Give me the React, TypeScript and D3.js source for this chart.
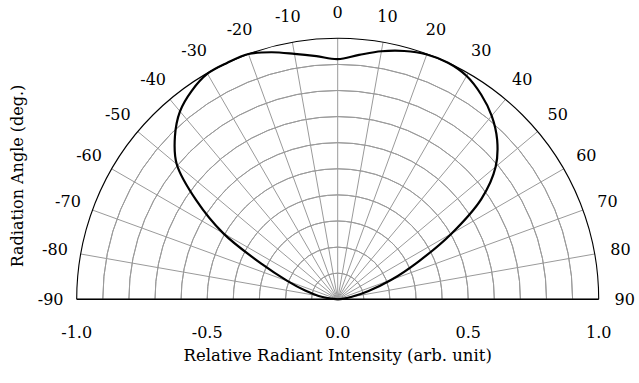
import React from "react";
import * as d3 from "d3";

const angles = [-90, -85, -80, -75, -70, -65, -60, -55, -50, -45, -40, -35, -30, -25, -20, -15, -10, -5, 0, 5, 10, 15, 20, 25, 30, 35, 40, 45, 50, 55, 60, 65, 70, 75, 80, 85, 90];
const intensity = [0, 0.027, 0.074, 0.129, 0.204, 0.323, 0.507, 0.662, 0.805, 0.882, 0.94, 0.975, 0.998, 1.0, 1.0, 0.98, 0.955, 0.935, 0.92, 0.94, 0.965, 0.985, 0.998, 1.0, 0.988, 0.958, 0.918, 0.864, 0.79, 0.673, 0.503, 0.34, 0.219, 0.12, 0.055, 0.018, 0];

const angleTicks = [-90, -80, -70, -60, -50, -40, -30, -20, -10, 0, 10, 20, 30, 40, 50, 60, 70, 80, 90];
const radialTicks = [0.1, 0.2, 0.3, 0.4, 0.5, 0.6, 0.7, 0.8, 0.9];
const xTicks = [-1.0, -0.5, 0.0, 0.5, 1.0];
const xTitle = "Relative Radiant Intensity (arb. unit)";
const yTitle = "Radiation Angle (deg.)";

const W = 639;
const H = 383;
const cx = 337.7;
const cy = 299.3;
const R = 261;
const FONT = "'DejaVu Serif', serif";
const FS = 16;

export default function App() {
  const x = d3.scaleLinear().domain([-1, 1]).range([cx - R, cx + R]);
  const r = d3.scaleLinear().domain([0, 1]).range([0, R]);
  const toRad = (deg: number) => (deg * Math.PI) / 180;

  const data = angles.map((a, i) => ({ a, v: intensity[i] }));
  const line = d3
    .lineRadial<{ a: number; v: number }>()
    .angle((d) => toRad(d.a))
    .radius((d) => r(d.v))
    .curve(d3.curveCatmullRom.alpha(0.5));

  const arc = (rad: number) =>
    d3.arc()({
      innerRadius: rad,
      outerRadius: rad,
      startAngle: -Math.PI / 2,
      endAngle: Math.PI / 2,
    }) as string;

  const labelR = R * 1.1;

  return (
    <svg
      width={W}
      height={H}
      style={{ position: "absolute", left: 0, top: 0, background: "#fff" }}
    >
      <g transform={`translate(${cx},${cy})`}>
        {radialTicks.map((t) => (
          <path key={t} d={arc(r(t))} fill="none" stroke="#9a9a9a" strokeWidth={1} />
        ))}
        {angleTicks.map((a) => (
          <line
            key={a}
            x1={0}
            y1={0}
            x2={r(1) * Math.sin(toRad(a))}
            y2={-r(1) * Math.cos(toRad(a))}
            stroke="#9a9a9a"
            strokeWidth={1}
          />
        ))}
        <path d={arc(r(1))} fill="none" stroke="#000" strokeWidth={1.1} />
        <path d={line(data) as string} fill="none" stroke="#000" strokeWidth={2.2} />
        {angleTicks.map((a) => (
          <text
            key={"l" + a}
            x={labelR * Math.sin(toRad(a))}
            y={-labelR * Math.cos(toRad(a))}
            textAnchor="middle"
            dominantBaseline="central"
            fontFamily={FONT}
            fontSize={FS}
            fill="#000"
          >
            {a}
          </text>
        ))}
      </g>
      <line x1={x(-1)} x2={x(1)} y1={cy} y2={cy} stroke="#000" strokeWidth={1.5} />
      {xTicks.map((t) => (
        <text
          key={t}
          x={x(t)}
          y={332}
          textAnchor="middle"
          dominantBaseline="central"
          fontFamily={FONT}
          fontSize={FS}
          fill="#000"
        >
          {t.toFixed(1)}
        </text>
      ))}
      <text
        x={cx}
        y={361}
        textAnchor="middle"
        fontFamily={FONT}
        fontSize={16.5}
        fill="#000"
      >
        {xTitle}
      </text>
      <text
        transform={`translate(23,176) rotate(-90)`}
        textAnchor="middle"
        fontFamily={FONT}
        fontSize={16}
        fill="#000"
      >
        {yTitle}
      </text>
    </svg>
  );
}
